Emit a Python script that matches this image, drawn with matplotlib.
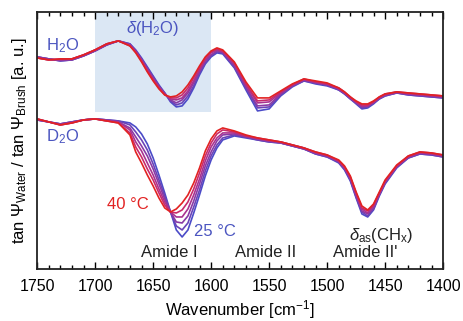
#ATR-IR style spectra of a polymer brush in H2O and D2O
#temperature series from 25 C (blue) to 40 C (red)
import numpy as np
import matplotlib.pyplot as plt
from matplotlib.ticker import MultipleLocator

plt.rcParams['font.family'] = ['Liberation Sans', 'DejaVu Sans']
plt.rcParams['mathtext.fontset'] = 'custom'
plt.rcParams['mathtext.rm'] = 'Liberation Sans'
plt.rcParams['mathtext.it'] = 'Liberation Sans:italic'

# wavenumber grid [cm-1]
wavenumber = [1750, 1740, 1730, 1720, 1710, 1700, 1690, 1680, 1670, 1665,
              1660, 1655, 1650, 1645, 1640, 1635, 1630, 1625, 1620, 1615,
              1610, 1605, 1600, 1595, 1590, 1580, 1570, 1560, 1550, 1540,
              1530, 1520, 1510, 1500, 1490, 1485, 1480, 1475, 1470, 1465,
              1460, 1455, 1450, 1440, 1430, 1420, 1410, 1400]

temperatures = [25, 28, 31, 34, 37, 40]

# H2O spectra (a.u., offset), one row per temperature
h2o = [
    [212, 210, 208, 209, 213, 218, 224, 228, 225, 219, 211, 202, 193, 184, 176, 167,
     162, 163, 170, 181, 194, 205, 212, 216, 215, 201, 179, 158, 160, 173, 182, 188,
     185, 183, 179, 175, 170, 165, 160, 161, 165, 170, 173, 176, 174, 173, 172, 171],
    [212, 210, 208, 209, 213, 218, 224, 228, 225, 218, 210, 201, 192, 183, 176, 168,
     164, 166, 173, 183, 196, 206, 213, 217, 216, 202, 181, 161, 162, 174, 183, 188,
     186, 184, 179, 175, 170, 166, 161, 162, 166, 170, 173, 176, 174, 173, 172, 171],
    [212, 210, 209, 209, 213, 218, 224, 228, 224, 218, 209, 200, 191, 182, 175, 169,
     166, 169, 176, 186, 198, 208, 214, 218, 217, 203, 182, 163, 164, 175, 183, 189,
     186, 184, 180, 176, 171, 166, 162, 163, 166, 171, 174, 176, 175, 174, 173, 172],
    [211, 209, 209, 210, 214, 219, 225, 228, 224, 217, 209, 199, 190, 182, 175, 170,
     169, 171, 178, 188, 199, 209, 216, 219, 217, 205, 184, 166, 167, 176, 184, 189,
     187, 185, 180, 176, 171, 167, 163, 163, 167, 171, 174, 177, 175, 174, 173, 172],
    [211, 209, 210, 210, 214, 219, 225, 228, 223, 217, 208, 198, 189, 181, 174, 171,
     171, 174, 181, 191, 201, 211, 217, 220, 218, 206, 185, 168, 169, 177, 184, 190,
     187, 185, 181, 177, 172, 167, 164, 164, 167, 172, 175, 177, 176, 175, 174, 173],
    [211, 209, 210, 210, 214, 219, 225, 228, 223, 216, 207, 197, 188, 180, 174, 172,
     173, 177, 184, 193, 203, 212, 218, 221, 219, 207, 187, 171, 171, 178, 185, 190,
     188, 186, 181, 177, 172, 168, 165, 165, 168, 172, 175, 177, 176, 175, 174, 173],
]

# D2O spectra (a.u., offset), one row per temperature
d2o = [
    [149, 147, 145, 147, 149, 150, 149, 148, 146, 142, 135, 125, 111, 94, 76, 57,
     39, 32, 39, 56, 74, 93, 109, 121, 129, 133, 131, 129, 127, 126, 123, 120,
     115, 112, 106, 99, 88, 71, 55, 52, 59, 73, 85, 101, 111, 115, 114, 112],
    [149, 147, 145, 147, 149, 150, 149, 148, 144, 137, 129, 119, 105, 89, 73, 57,
     43, 39, 46, 62, 79, 98, 113, 124, 131, 134, 132, 129, 127, 126, 123, 120,
     115, 112, 107, 100, 89, 72, 57, 53, 60, 74, 86, 102, 111, 115, 114, 112],
    [149, 147, 145, 147, 149, 150, 149, 147, 141, 132, 123, 113, 100, 85, 70, 57,
     47, 46, 53, 68, 85, 103, 117, 128, 134, 135, 132, 130, 128, 126, 123, 120,
     116, 113, 107, 101, 90, 73, 58, 55, 61, 75, 87, 102, 112, 116, 115, 113],
    [150, 147, 144, 146, 149, 150, 148, 147, 139, 127, 118, 106, 94, 80, 67, 57,
     52, 52, 60, 74, 90, 108, 122, 131, 136, 136, 133, 130, 128, 127, 124, 121,
     116, 113, 108, 101, 91, 75, 60, 56, 63, 75, 87, 103, 112, 116, 115, 113],
    [150, 147, 144, 146, 149, 150, 148, 146, 136, 122, 112, 100, 89, 76, 64, 57,
     56, 59, 67, 80, 96, 113, 126, 135, 139, 137, 133, 131, 129, 127, 124, 121,
     117, 114, 108, 102, 92, 76, 61, 58, 64, 76, 88, 103, 113, 117, 116, 114],
    [150, 147, 144, 146, 149, 150, 148, 146, 134, 117, 106, 94, 83, 71, 61, 57,
     60, 66, 74, 86, 101, 118, 130, 138, 141, 138, 134, 131, 129, 127, 124, 121,
     117, 114, 109, 103, 93, 77, 63, 59, 65, 77, 89, 104, 113, 117, 116, 114],
]

# colours from 25 C (blue) to 40 C (red)
colors = ['#4b4bc8', '#6a43b8', '#8a3aa5', '#a93290', '#c82a6c', '#e22222']

fig, ax = plt.subplots(figsize=(4.64, 3.21), dpi=100)
fig.subplots_adjust(left=0.08, right=0.955, bottom=0.162, top=0.963)

# shaded water bending band
ax.axvspan(1700, 1600, ymin=0.61, ymax=1, color='#dbe7f4', lw=0, zorder=0)

for i in range(len(temperatures)):
    ax.plot(wavenumber, h2o[i], color=colors[i], lw=1.2, zorder=2,
            solid_joinstyle='round')
    ax.plot(wavenumber, d2o[i], color=colors[i], lw=1.2, zorder=2,
            solid_joinstyle='round')

ax.set_xlim(1750, 1400)
ax.set_ylim(0, 257)

ax.xaxis.set_major_locator(MultipleLocator(50))
ax.xaxis.set_minor_locator(MultipleLocator(10))
ax.tick_params(axis='x', which='both', direction='in', top=True, labelsize=11.5, pad=7)
ax.tick_params(axis='x', which='major', length=5, width=1)
ax.tick_params(axis='x', which='minor', length=3, width=1)
ax.set_yticks([])
for s in ax.spines.values():
    s.set_linewidth(1.3)
    s.set_color('#222222')

blue = '#4b55c0'
red = '#e22222'
ax.text(1728, 223, 'H$_2$O', color=blue, fontsize=12, ha='center', va='center')
ax.text(1650, 240, r'$\delta$(H$_2$O)', color=blue, fontsize=12, ha='center', va='center')
ax.text(1728, 132, 'D$_2$O', color=blue, fontsize=12, ha='center', va='center')
ax.text(1672, 64, '40 °C', color=red, fontsize=12, ha='center', va='center')
ax.text(1597, 37, '25 °C', color=blue, fontsize=12, ha='center', va='center')
ax.text(1636, 16, 'Amide I', color='#222222', fontsize=12, ha='center', va='center')
ax.text(1553, 16, 'Amide II', color='#222222', fontsize=12, ha='center', va='center')
ax.text(1467, 16, "Amide II'", color='#222222', fontsize=12, ha='center', va='center')
ax.text(1453, 33, r'$\delta_{\mathrm{as}}$(CH$_\mathrm{x}$)', color='#222222', fontsize=12,
        ha='center', va='center')

ax.set_xlabel('Wavenumber [cm$^{-1}$]', fontsize=12, labelpad=3)
ax.set_ylabel(r'tan $\Psi_{\mathrm{Water}}$ / tan $\Psi_{\mathrm{Brush}}$ [a. u.]',
              fontsize=12, labelpad=6)

plt.savefig('out.png', dpi=100)
